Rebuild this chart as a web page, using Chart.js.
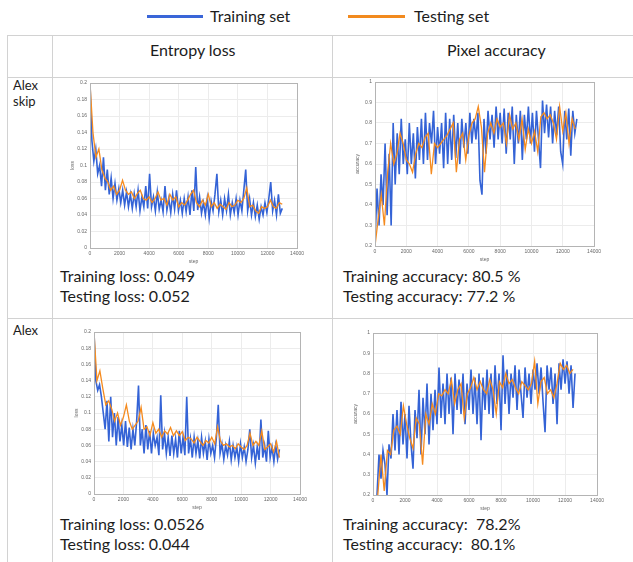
<!DOCTYPE html>
<html lang="en">
<head>
<meta charset="UTF-8">
<title>Training curves</title>
<style>
  body { margin: 0; width: 633px; height: 562px; background: #fff; position: relative; overflow: hidden;
         font-family: Lato, "Open Sans", sans-serif; color: #1c1c1c; }
  .hl { position: absolute; height: 1px; background: #d2d2d2; }
  .vl { position: absolute; width: 1px; background: #d2d2d2; }
  .txt { position: absolute; font-size: 16px; white-space: pre; line-height: 20px; }
  .lab { position: absolute; font-size: 13px; line-height: 16px; }
  .leg { position: absolute; height: 3px; }
  canvas { position: absolute; }
</style>
</head>
<body>
  <!-- legend -->
  <div class="leg" style="left:147px; top:15px; width:56px; background:#3a66d8;"></div>
  <div class="txt" style="left:210px; top:6px;">Training set</div>
  <div class="leg" style="left:348px; top:15px; width:57px; background:#f28a1e;"></div>
  <div class="txt" style="left:414px; top:6px;">Testing set</div>

  <!-- table -->
  <div class="hl" style="left:7px; top:35px; width:626px;"></div>
  <div class="hl" style="left:7px; top:77px; width:626px;"></div>
  <div class="hl" style="left:7px; top:318px; width:626px;"></div>
  <div class="vl" style="left:7px; top:35px; height:527px;"></div>
  <div class="vl" style="left:52px; top:35px; height:527px;"></div>
  <div class="vl" style="left:332px; top:35px; height:527px;"></div>

  <div class="txt" style="left:150px; top:40px;">Entropy loss</div>
  <div class="txt" style="left:447px; top:40px;">Pixel accuracy</div>
  <div class="lab" style="left:13px; top:77px;">Alex<br>skip</div>
  <div class="lab" style="left:13px; top:322px;">Alex</div>

  <div class="txt" style="left:60px; top:266px;">Training loss: 0.049<br>Testing loss: 0.052</div>
  <div class="txt" style="left:343px; top:266px;">Training accuracy: 80.5 %<br>Testing accuracy: 77.2 %</div>
  <div class="txt" style="left:60px; top:514px;">Training loss: 0.0526<br>Testing loss: 0.044</div>
  <div class="txt" style="left:343px; top:514px;">Training accuracy:  78.2%<br>Testing accuracy:  80.1%</div>

  <canvas id="c1"></canvas>
  <canvas id="c2"></canvas>
  <canvas id="c3"></canvas>
  <canvas id="c4"></canvas>

<script src="https://cdn.jsdelivr.net/npm/chart.js"></script>
<script>
// ---- Alex skip, entropy loss ----
const skipLossTrainStart = 0, skipLossTrainStep = 130;
const skipLossTrain = [0.2,0.13,0.105,0.12,0.09,0.1,0.075,0.11,0.07,0.095,
  0.065,0.085,0.06,0.078,0.058,0.072,0.055,0.07,0.052,0.068,
  0.05,0.065,0.048,0.066,0.05,0.07,0.045,0.062,0.05,0.075,
  0.048,0.09,0.05,0.062,0.045,0.068,0.047,0.058,0.044,0.075,
  0.046,0.06,0.043,0.065,0.047,0.07,0.045,0.058,0.042,0.06,
  0.044,0.062,0.04,0.07,0.045,0.098,0.046,0.062,0.042,0.055,
  0.04,0.06,0.036,0.057,0.045,0.065,0.09,0.044,0.058,0.04,
  0.06,0.045,0.065,0.04,0.055,0.043,0.06,0.04,0.058,0.045,
  0.07,0.095,0.045,0.06,0.04,0.055,0.038,0.052,0.035,0.05,
  0.04,0.055,0.043,0.06,0.08,0.045,0.058,0.04,0.065,0.042,0.048];
const skipLossTestStart = 0, skipLossTestStep = 200;
const skipLossTest = [0.2,0.14,0.11,0.12,0.095,0.085,0.08,0.07,0.075,0.065,
  0.07,0.082,0.07,0.065,0.068,0.06,0.066,0.07,0.06,0.058,
  0.062,0.055,0.06,0.068,0.058,0.06,0.052,0.065,0.058,0.062,
  0.05,0.055,0.052,0.058,0.065,0.07,0.055,0.05,0.058,0.052,
  0.065,0.05,0.055,0.048,0.053,0.05,0.047,0.055,0.05,0.052,
  0.058,0.055,0.06,0.073,0.05,0.052,0.045,0.042,0.05,0.048,
  0.05,0.058,0.05,0.048,0.055,0.053];

// ---- Alex skip, pixel accuracy ----
const skipAccTrainStart = 0, skipAccTrainStep = 129;
const skipAccTrain = [0.22,0.48,0.3,0.55,0.4,0.7,0.35,0.65,0.3,0.8,
  0.5,0.75,0.55,0.82,0.6,0.72,0.55,0.8,0.6,0.75,
  0.53,0.78,0.62,0.82,0.6,0.85,0.62,0.8,0.7,0.86,
  0.6,0.78,0.65,0.8,0.58,0.85,0.6,0.82,0.62,0.84,
  0.63,0.8,0.6,0.82,0.68,0.8,0.65,0.85,0.7,0.82,
  0.72,0.85,0.52,0.45,0.82,0.65,0.86,0.72,0.84,0.68,
  0.88,0.72,0.85,0.7,0.87,0.65,0.85,0.72,0.88,0.6,
  0.84,0.7,0.86,0.62,0.84,0.72,0.88,0.7,0.85,0.66,
  0.86,0.72,0.58,0.91,0.75,0.89,0.73,0.88,0.7,0.86,
  0.74,0.88,0.66,0.6,0.86,0.72,0.87,0.64,0.86,0.75,0.82];
const skipAccTestStart = 0, skipAccTestStep = 200;
const skipAccTest = [0.2,0.33,0.45,0.3,0.55,0.7,0.6,0.65,0.75,0.7,
  0.62,0.6,0.56,0.65,0.7,0.68,0.73,0.75,0.55,0.7,
  0.68,0.7,0.72,0.74,0.77,0.8,0.56,0.72,0.75,0.62,
  0.74,0.8,0.82,0.88,0.78,0.56,0.75,0.8,0.75,0.82,
  0.78,0.8,0.7,0.84,0.77,0.8,0.72,0.82,0.67,0.77,
  0.7,0.76,0.66,0.83,0.85,0.82,0.84,0.8,0.72,0.88,
  0.76,0.85,0.7,0.82,0.77];

// ---- Alex, entropy loss ----
const alexLossTrainStart = 0, alexLossTrainStep = 126;
const alexLossTrain = [0.2,0.14,0.128,0.135,0.12,0.1,0.08,0.115,0.065,0.12,
  0.07,0.1,0.06,0.095,0.065,0.085,0.06,0.09,0.058,0.082,
  0.055,0.08,0.06,0.09,0.134,0.06,0.08,0.05,0.085,0.055,
  0.078,0.05,0.075,0.06,0.07,0.048,0.122,0.055,0.075,0.05,
  0.07,0.047,0.072,0.05,0.068,0.045,0.078,0.05,0.07,0.048,
  0.12,0.05,0.068,0.045,0.07,0.05,0.066,0.044,0.07,0.05,
  0.065,0.042,0.068,0.05,0.06,0.045,0.07,0.11,0.05,0.062,
  0.043,0.06,0.048,0.065,0.042,0.06,0.045,0.058,0.04,0.062,
  0.045,0.058,0.04,0.055,0.08,0.045,0.06,0.038,0.058,0.042,
  0.092,0.045,0.06,0.04,0.078,0.045,0.058,0.04,0.06,0.043,0.055];
const alexLossTestStart = 0, alexLossTestStep = 200;
const alexLossTest = [0.2,0.14,0.152,0.13,0.11,0.115,0.105,0.09,0.1,0.085,
  0.095,0.11,0.09,0.08,0.085,0.09,0.107,0.08,0.083,0.072,
  0.088,0.075,0.08,0.07,0.078,0.074,0.082,0.072,0.078,0.072,
  0.077,0.066,0.07,0.068,0.063,0.07,0.065,0.06,0.066,0.063,
  0.07,0.062,0.083,0.065,0.06,0.062,0.058,0.06,0.056,0.062,
  0.058,0.055,0.06,0.075,0.06,0.065,0.06,0.078,0.055,0.058,
  0.062,0.052,0.065,0.045];

// ---- Alex, pixel accuracy ----
const alexAccTrainStart = 250, alexAccTrainStep = 125;
const alexAccTrain = [0.2,0.4,0.28,0.42,0.35,0.2,0.45,0.38,0.6,0.42,
  0.62,0.4,0.66,0.45,0.6,0.38,0.64,0.45,0.33,0.62,
  0.48,0.72,0.4,0.68,0.5,0.75,0.45,0.7,0.52,0.72,
  0.55,0.83,0.58,0.75,0.55,0.8,0.6,0.78,0.5,0.8,
  0.62,0.77,0.6,0.8,0.55,0.75,0.62,0.82,0.6,0.78,
  0.55,0.8,0.47,0.78,0.62,0.82,0.6,0.8,0.58,0.84,
  0.65,0.8,0.52,0.89,0.65,0.82,0.6,0.8,0.68,0.84,
  0.62,0.82,0.7,0.58,0.83,0.68,0.8,0.65,0.82,0.72,
  0.85,0.7,0.83,0.66,0.51,0.84,0.72,0.83,0.65,0.8,
  0.55,0.85,0.72,0.87,0.75,0.86,0.7,0.84,0.63,0.8];
const alexAccTestStart = 300, alexAccTestStep = 200;
const alexAccTest = [0.2,0.4,0.22,0.42,0.4,0.52,0.54,0.5,0.64,0.55,
  0.48,0.43,0.58,0.55,0.35,0.6,0.55,0.65,0.6,0.7,
  0.69,0.72,0.7,0.77,0.65,0.72,0.75,0.58,0.7,0.73,
  0.78,0.72,0.76,0.72,0.7,0.77,0.72,0.6,0.76,0.73,
  0.8,0.75,0.77,0.73,0.7,0.76,0.74,0.72,0.75,0.86,
  0.65,0.76,0.78,0.7,0.72,0.68,0.75,0.85,0.82,0.84,
  0.8,0.82];

const stepTicks = [0, 2000, 4000, 6000, 8000, 10000, 12000, 14000];

const BLUE = '#3463d6';
const ORANGE = '#f58b1f';

function pts(start, step, vals) {
  return vals.map((v, i) => ({ x: start + i * step, y: v }));
}

const boxPlugin = {
  id: 'box',
  afterDraw(chart) {
    const a = chart.chartArea, c = chart.ctx;
    c.save();
    c.strokeStyle = '#b4b4b4';
    c.lineWidth = 1;
    c.strokeRect(Math.round(a.left) + 0.5, Math.round(a.top) + 0.5,
                 Math.round(a.right - a.left), Math.round(a.bottom - a.top));
    c.restore();
  }
};

function makeChart(id, box, train, test, yMin, yMax, yStep, yTitle) {
  const yW = 22, xH = 17, padT = 6, padR = 8;
  const cv = document.getElementById(id);
  cv.width = box.r - box.l + yW + padR;
  cv.height = box.b - box.t + padT + xH;
  cv.style.left = (box.l - yW) + 'px';
  cv.style.top = (box.t - padT) + 'px';
  const tickFont = { family: 'Liberation Sans', size: 5 };
  new Chart(cv.getContext('2d'), {
    type: 'line',
    data: {
      datasets: [
        { label: 'Testing set', data: test, borderColor: ORANGE, borderWidth: 1.3,
          pointRadius: 0, tension: 0, order: 0 },
        { label: 'Training set', data: train, borderColor: BLUE, borderWidth: 1.6,
          pointRadius: 0, tension: 0, order: 1 }
      ]
    },
    options: {
      responsive: false,
      animation: false,
      layout: { padding: { top: padT, right: padR, left: 0, bottom: 0 } },
      plugins: { legend: { display: false }, tooltip: { enabled: false } },
      scales: {
        x: {
          type: 'linear', min: 0, max: 14000,
          afterBuildTicks: s => { s.ticks = stepTicks.map(v => ({ value: v })); },
          afterFit: s => { s.height = xH; },
          grid: { color: '#ececec', drawTicks: false },
          border: { color: '#b4b4b4' },
          ticks: { font: tickFont, color: '#666', padding: 3, maxRotation: 0,
                   callback: v => String(v) },
          title: { display: true, text: 'step', font: tickFont, color: '#666', padding: 0 }
        },
        y: {
          min: yMin, max: yMax,
          ticks: { stepSize: yStep, font: tickFont, color: '#666', padding: 3,
                   callback: v => String(+v.toFixed(2)) },
          afterFit: s => { s.width = yW; },
          grid: { color: '#ececec', drawTicks: false },
          border: { color: '#b4b4b4' },
          title: { display: true, text: yTitle, font: tickFont, color: '#666', padding: 2 }
        }
      }
    },
    plugins: [boxPlugin]
  });
}

makeChart('c1', { l: 90, t: 83, r: 299, b: 248 },
  pts(skipLossTrainStart, skipLossTrainStep, skipLossTrain),
  pts(skipLossTestStart, skipLossTestStep, skipLossTest), 0, 0.2, 0.02, 'loss');
makeChart('c2', { l: 375, t: 82, r: 596, b: 246 },
  pts(skipAccTrainStart, skipAccTrainStep, skipAccTrain),
  pts(skipAccTestStart, skipAccTestStep, skipAccTest), 0.2, 1, 0.1, 'accuracy');
makeChart('c3', { l: 94, t: 332, r: 302, b: 494 },
  pts(alexLossTrainStart, alexLossTrainStep, alexLossTrain),
  pts(alexLossTestStart, alexLossTestStep, alexLossTest), 0, 0.2, 0.02, 'loss');
makeChart('c4', { l: 373, t: 333, r: 599, b: 495 },
  pts(alexAccTrainStart, alexAccTrainStep, alexAccTrain),
  pts(alexAccTestStart, alexAccTestStep, alexAccTest), 0.2, 1, 0.1, 'accuracy');
</script>
</body>
</html>
